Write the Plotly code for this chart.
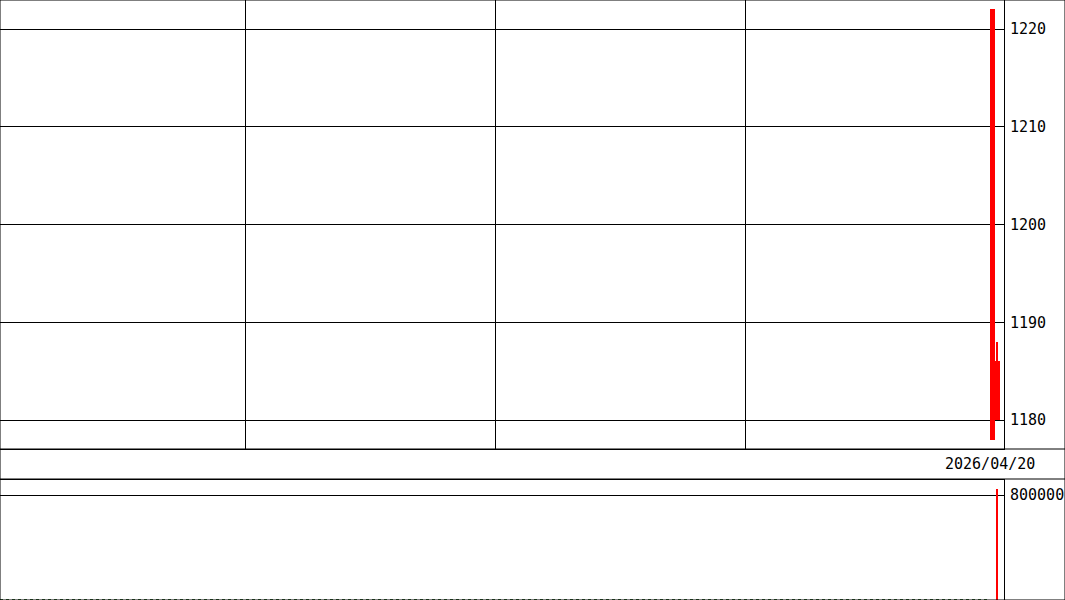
import plotly.graph_objects as go

# candles, position = slot index on the time axis
candle_slot = [198, 199]
opens = [1178, 1180]
highs = [1222, 1188]
lows = [1178, 1180]
closes = [1222, 1186]
volumes = [0, 846000]

price_ticks = [1180, 1190, 1200, 1210, 1220]
volume_ticks = [800000]
time_grid = [49, 99, 149]
date_slot = [198]
date_labels = ["2026/04/20"]

# volume average line (sits on zero)
ma_slot = [0, 198]
ma_values = [0, 0]

W, H = 1065, 600
x_end = 1004 / W
font = dict(family="DejaVu Sans Mono", size=15, color="black")
red = "#ff0000"

centers = [s + 0.5 for s in candle_slot]

fig = go.Figure()

# wicks
fig.add_trace(go.Bar(
    x=centers, base=lows, y=[h - l for h, l in zip(highs, lows)],
    width=0.25, marker=dict(color=red, line=dict(width=0)),
    xaxis="x", yaxis="y", hoverinfo="skip"))
# bodies
fig.add_trace(go.Bar(
    x=centers, base=[min(o, c) for o, c in zip(opens, closes)],
    y=[abs(c - o) for o, c in zip(opens, closes)],
    width=1.0, marker=dict(color=red, line=dict(width=0)),
    xaxis="x", yaxis="y", hoverinfo="skip"))

# volume
fig.add_trace(go.Bar(
    x=centers, y=volumes, width=0.25,
    marker=dict(color=red, line=dict(width=0)),
    xaxis="x2", yaxis="y2", hoverinfo="skip"))
fig.add_trace(go.Scatter(
    x=ma_slot, y=ma_values, mode="lines",
    line=dict(color="#336633", width=1, dash="dot"),
    xaxis="x2", yaxis="y2", hoverinfo="skip"))

axis_common = dict(showline=True, linecolor="black", linewidth=1, mirror=True,
                   zeroline=False, fixedrange=True)

fig.update_layout(
    width=W, height=H,
    margin=dict(l=0, r=0, t=0, b=0),
    paper_bgcolor="white", plot_bgcolor="white",
    showlegend=False, barmode="overlay", bargap=0,
    font=font,
    xaxis=dict(domain=[0, x_end], range=[0, 200.8], tickvals=time_grid,
               showticklabels=False, showgrid=True, gridcolor="black",
               gridwidth=1, ticks="", **axis_common),
    yaxis=dict(domain=[(H - 449) / H, 1], range=[1177.033, 1222.967],
               side="right", tickvals=price_ticks, showgrid=True,
               gridcolor="black", gridwidth=1, ticks="",
               ticklabelstandoff=2, tickfont=font, **axis_common),
    xaxis2=dict(domain=[0, x_end], range=[0, 200.8], showticklabels=False,
                showgrid=False, ticks="", anchor="y2", **axis_common),
    yaxis2=dict(domain=[0, 120 / H], range=[-3800, 914829], side="right",
                tickvals=volume_ticks, tickformat="d", showgrid=True,
                gridcolor="black", gridwidth=1, ticks="", ticklabelstandoff=2,
                tickfont=font, anchor="x2", **axis_common),
)

for s, label in zip(date_slot, date_labels):
    fig.add_annotation(x=s, xref="x", y=(H - 464) / H, yref="paper",
                       text=label, showarrow=False, font=font,
                       xanchor="center", yanchor="middle")

# outer frame and the date row borders
fig.add_shape(type="rect", xref="paper", yref="paper", x0=0, x1=1,
              y0=0, y1=1, line=dict(color="black", width=1))
fig.add_shape(type="line", xref="paper", yref="paper", x0=0, x1=1,
              y0=(H - 449) / H, y1=(H - 449) / H, line=dict(color="black", width=1))
fig.add_shape(type="line", xref="paper", yref="paper", x0=0, x1=1,
              y0=(H - 479) / H, y1=(H - 479) / H, line=dict(color="black", width=1))

# page has a default body margin; drop it so the chart fills the window
fig.write_html("out.html", config={"displayModeBar": False},
               post_script="document.body.style.margin='0';")
